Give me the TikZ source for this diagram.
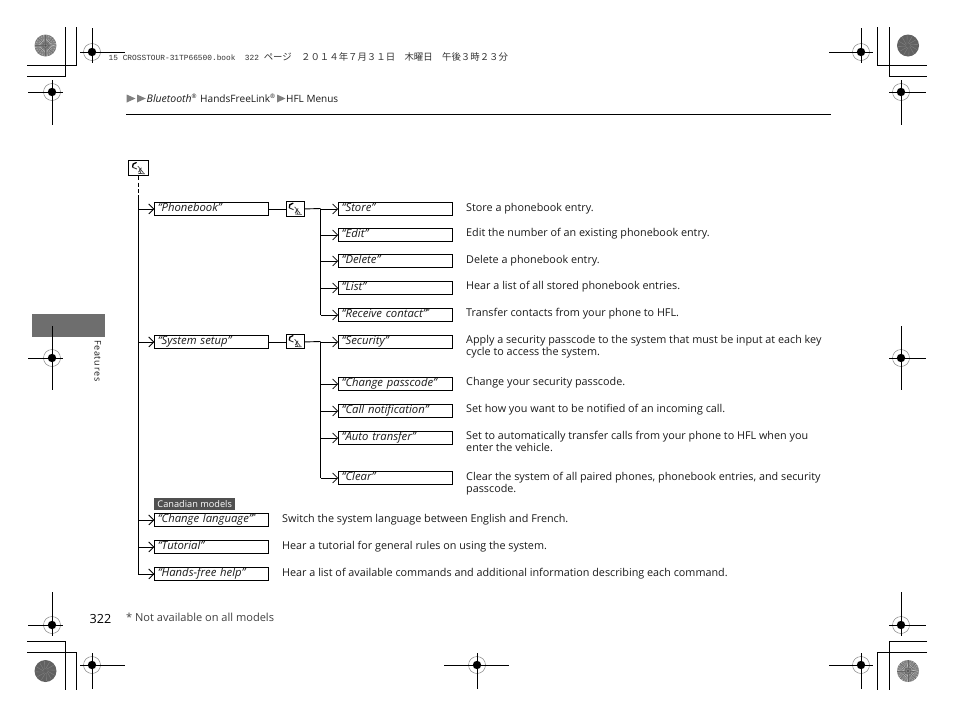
\documentclass[tikz,border=0pt]{standalone}
\usepackage{fontspec}
\usetikzlibrary{arrows.meta}
\setmainfont{Open Sans}
\newfontfamily\jpf{Noto Sans CJK JP}
\newfontfamily\hdrf{Liberation Mono}
\definecolor{tabgray}{HTML}{6E6E6E}
\definecolor{darkbar}{HTML}{505050}
\definecolor{txt}{HTML}{1A1A1A}
\newcommand{\jp}[1]{{\fontsize{9.4}{10}\selectfont\jpf #1}}
\tikzset{
  rule/.style={line width=0.9pt,black},
  conn/.style={line width=0.9pt,black},
  arr/.style={conn,-{Straight Barb[length=5pt,width=10pt,line width=0.8pt]}},
  optbox/.style={draw=black,line width=0.9pt,fill=white,anchor=north west,minimum height=13pt,inner sep=0pt,
     font=\fontsize{11.3}{12}\selectfont\itshape,text=txt,align=left,text height=7.5pt,text depth=3pt},
  wide/.style={optbox,minimum width=114pt,text width=112pt},
  icon/.style={draw=black,line width=0.8pt,fill=white,anchor=north west,inner sep=0pt},
  desc/.style={anchor=north west,inner sep=0pt,align=left,text=txt,
     font=\fontsize{10.8}{12}\selectfont,execute at begin node=\strut},
  vc/.pic={
    \draw[line width=1.3pt,black,line cap=round] (-2.2,-5.6) .. controls (-5,-5) and (-6.6,-3.5) .. (-5.8,-1.2);
    \draw[line width=0.9pt,black!80] (-5.8,-0.9) -- (-1.6,0.8);
    \draw[line width=0.7pt,black!75] (-0.5,-2) -- (5,4.6) (3,-0.5) -- (0,4) (1,1) -- (2.5,5.3) (0,5.2) -- (6.5,5.6);
  },
  regm/.pic={
    \draw[line width=0.4pt,black!55,fill=white] (0,0) circle (8.5);
    \fill[black] (0,0) circle (4.2);
    \draw[line width=0.3pt,white] (-4.2,0) -- (4.2,0) (0,-4.2) -- (0,4.2);
  },
  discp/.pic={
    \fill[black!48] (0,0) circle (11);
    \foreach \a in {0,15,...,345}{\draw[line width=0.55pt,white!80!black] (\a:3.5) -- (\a+18:10.5);\draw[line width=0.4pt,black!60] (\a:2) -- (\a:10.8);}
    \fill[black!70] (0,0) circle (1.2);
  },
  discd/.pic={
    \fill[black!62] (0,0) circle (11);
    \foreach \a in {0,30,...,330}{\draw[line width=0.35pt,black!48] (\a:2) -- (\a+25:10);}
  },
}
\begin{document}
\begin{tikzpicture}[x=1pt,y=-1pt]
\useasboundingbox (0,0) rectangle (954,718);
\fill[white] (0,0) rectangle (954,718);

% side tab
\fill[tabgray] (32,314) rectangle (105,337);
\node[rotate=-90,anchor=base west,inner sep=0pt,font=\fontsize{9}{10}\selectfont,text=txt] (sidetab) at (94.5,340) {F\kern.7pt e\kern.7pt a\kern.7pt t\kern.7pt u\kern.7pt r\kern.7pt e\kern.7pt s};

% crop corners
\draw[rule] (27,76) -- (65,76) -- (65,27) (27,65) -- (76,65) -- (76,27);
\draw[rule] (877,27) -- (877,65) -- (927,65) (889,27) -- (889,76) -- (927,76);
\draw[rule] (27,641) -- (65,641) -- (65,690) (27,652) -- (76,652) -- (76,690);
\draw[rule] (927,641) -- (889,641) -- (889,690) (927,652) -- (877,652) -- (877,690);
\pic at (45.5,45.5) {discp};
\pic at (908,45.5) {discd};
\pic at (45.5,671) {discd};
\pic at (908,671) {discp};

% registration marks
\foreach \cx/\cy/\xa/\xb/\ya/\yb in {
  92/52/80/125/28/63, 52/92/28/63/80/125,
  861/52/829/873/28/63, 901/92/889/926/80/125,
  52/358/28/63/326/390, 901/358/889/926/326/390,
  52/625/28/63/592/636, 901/625/889/926/592/636,
  92/665/80/125/653/689, 861/665/829/873/653/689,
  477/665/444/509/653/689}{
  \pic at (\cx,\cy) {regm};
  \draw[rule] (\xa,\cy) -- (\xb,\cy) (\cx,\ya) -- (\cx,\yb);
}

% print header
\node[anchor=base west,inner sep=0pt,text=black!80,font=\fontsize{7.83}{9}\selectfont\hdrf] (printline) at (108.5,60)
 {15 CROSSTOUR-31TP66500.book\ \ 322\ \jp{ページ}\ \ \jp{２０１４年７月３１日}\ \ \jp{木曜日}\ \ \jp{午後３時２３分}};

% breadcrumb
\fill[black!50] (126.7,94.5) -- (135.5,98.5) -- (126.7,102.5) -- cycle (137,94.5) -- (145.8,98.5) -- (137,102.5) -- cycle (277,94.5) -- (285.5,98.5) -- (277,102.5) -- cycle;
\node[anchor=base west,inner sep=0pt,text=txt,font=\fontsize{10.5}{12}\selectfont] (crumb) at (146.5,102)
  {\textit{Bluetooth}\textsuperscript{\fontsize{6}{6}\selectfont®}};
\node[anchor=base west,inner sep=0pt,text=txt,font=\fontsize{10.1}{12}\selectfont] (crumbb) at (200,102)
  {HandsFreeLink\textsuperscript{\fontsize{6}{6}\selectfont®}};
\node[anchor=base west,inner sep=0pt,text=txt,font=\fontsize{10}{12}\selectfont] (crumbc) at (286,102) {HFL Menus};
\draw[rule] (126,114.3) -- (831,114.3);

% icons
\node[icon,minimum width=19.5pt,minimum height=15pt] (ic0) at (128.3,160.3) {};
\node[icon,minimum width=18.5pt,minimum height=14.5pt] (ic1) at (285.5,201.2) {};
\node[icon,minimum width=18.5pt,minimum height=14.5pt] (ic2) at (285.5,333.6) {};
\pic at (ic0) {vc};
\pic at (ic1) {vc};
\pic at (ic2) {vc};

% left column
\node[wide] (phone) at (154.3,202) {\hspace{2pt}“Phonebook”};
\node[wide] (sys) at (154.3,335) {\hspace{2pt}“System setup”};
\node[wide] (lang) at (154.3,513) {\hspace{2pt}“Change language”\textsuperscript{\fontsize{6}{6}\selectfont\upshape *}};
\node[wide] (tut) at (154.3,540) {\hspace{2pt}“Tutorial”};
\node[wide] (help) at (154.3,567) {\hspace{2pt}“Hands-free help”};

% right column
\node[wide] (store) at (338.2,202) {\hspace{2pt}“Store”};
\node[wide] (edit) at (338.2,228) {\hspace{2pt}“Edit”};
\node[wide] (del) at (338.2,254) {\hspace{2pt}“Delete”};
\node[wide] (list) at (338.2,281) {\hspace{2pt}“List”};
\node[wide] (recv) at (338.2,308) {\hspace{2pt}“Receive contact”\textsuperscript{\fontsize{6}{6}\selectfont\upshape *}};
\node[wide] (sec) at (338.2,335) {\hspace{2pt}“Security”};
\node[wide] (pass) at (338.2,377) {\hspace{2pt}“Change passcode”};
\node[wide] (call) at (338.2,404) {\hspace{2pt}“Call notification”};
\node[wide] (auto) at (338.2,431) {\hspace{2pt}“Auto transfer”};
\node[wide] (clear) at (338.2,471) {\hspace{2pt}“Clear”};

% descriptions
\node[desc] (dstore) at (466,203) {Store a phonebook entry.};
\node[desc] (dedit) at (466,228) {Edit the number of an existing phonebook entry.};
\node[desc] (ddel) at (466,254.5) {Delete a phonebook entry.};
\node[desc] (dlist) at (466,281) {Hear a list of all stored phonebook entries.};
\node[desc] (drecv) at (466,308) {Transfer contacts from your phone to HFL.};
\node[desc] (dsec) at (466,335) {Apply a security passcode to the system that must be input at each key\\cycle to access the system.};
\node[desc] (dpass) at (466,377) {Change your security passcode.};
\node[desc] (dcall) at (466,404) {Set how you want to be notified of an incoming call.};
\node[desc] (dauto) at (466,431) {Set to automatically transfer calls from your phone to HFL when you\\enter the vehicle.};
\node[desc] (dclear) at (466,472) {Clear the system of all paired phones, phonebook entries, and security\\passcode.};
\node[desc] (dlang) at (282,514) {Switch the system language between English and French.};
\node[desc] (dtut) at (282,541) {Hear a tutorial for general rules on using the system.};
\node[desc] (dhelp) at (282,568) {Hear a list of available commands and additional information describing each command.};

% Canadian label
\node[anchor=north west,fill=darkbar,text=white,inner sep=0pt,minimum width=81pt,minimum height=12pt,font=\fontsize{9.2}{10}\selectfont] (canada) at (154,498) {Canadian models};

% page number and footnote
\node[anchor=base west,inner sep=0pt,text=black,font=\fontsize{12.6}{14}\selectfont] (pageno) at (89.5,623) {322};
\node[desc,text=black!75,font=\fontsize{11.05}{12}\selectfont] (note) at (126,612.5) {* Not available on all models};

% connectors
\coordinate (busTop) at (138.5,195);
\coordinate (busR) at (320.5,208.5);
\coordinate (busS) at (320.5,341.5);
\draw[conn,dash pattern=on 4pt off 2.5pt] (ic0.south -| busTop) -- (busTop);
\draw[conn] (busTop) -- (busTop |- help.west) -- (help.west);
\foreach \n in {phone,sys,lang,tut,help}{\draw[arr] (busTop |- \n.west) -- (\n.west);}
\draw[conn] (phone.east) -- (phone.east -| ic1.west);
\draw[conn] (sys.east) -- (sys.east -| ic2.west);
\draw[conn] (ic1.east |- store.west) -- (busR);
\draw[conn] (ic2.east |- sec.west) -- (busS);
\draw[conn] (busR) -- (busR |- recv.west);
\draw[conn] (busS) -- (busS |- clear.west);
\foreach \n in {store,edit,del,list,recv}{\draw[arr] (busR |- \n.west) -- (\n.west);}
\foreach \n in {sec,pass,call,auto,clear}{\draw[arr] (busS |- \n.west) -- (\n.west);}
\end{tikzpicture}
\end{document}
